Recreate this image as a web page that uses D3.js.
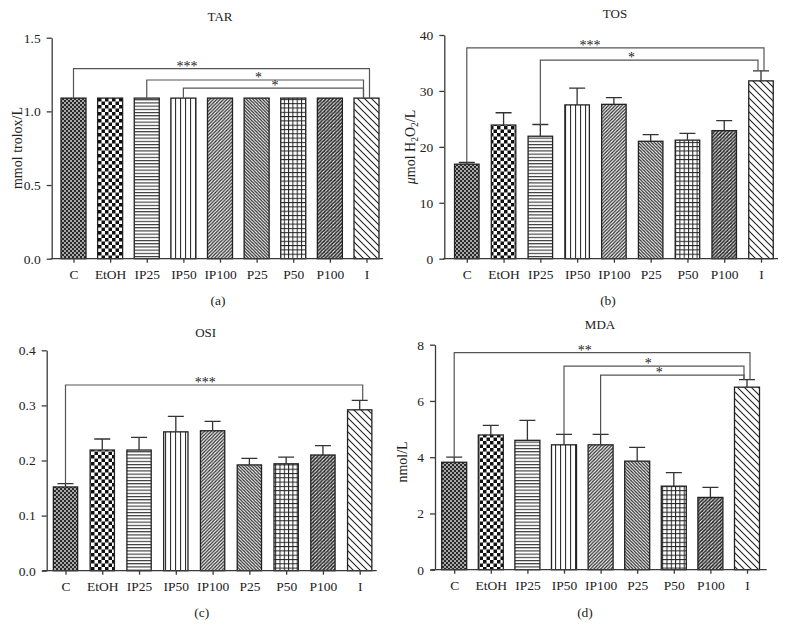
<!DOCTYPE html>
<html>
<head>
<meta charset="utf-8">
<script src="https://cdn.jsdelivr.net/npm/d3@7"></script>
<style>
  html, body { margin: 0; padding: 0; background: #fff; }
  svg { display: block; }
  text { font-family: "Liberation Serif", "DejaVu Serif", Times, serif; fill: #222; }
</style>
</head>
<body>
<svg id="chart" width="787" height="638"></svg>
<script>
// ---------------- DATA ----------------
const categories = ["C", "EtOH", "IP25", "IP50", "IP100", "P25", "P50", "P100", "I"];

const tarValues = [1.09, 1.09, 1.09, 1.09, 1.09, 1.09, 1.09, 1.09, 1.09];
const tarErrors = [0, 0, 0, 0, 0, 0, 0, 0, 0];
const tarTicks = [0, 0.5, 1.0, 1.5];
const tarSig = [
  { from: "C", to: "I", label: "***", level: 1.29, labelAt: 3.1 },
  { from: "IP25", to: "I", label: "*", level: 1.213, labelAt: 5.05 },
  { from: "IP50", to: "I", label: "*", level: 1.158, labelAt: 5.5 }
];

const tosValues = [16.9, 23.9, 21.9, 27.5, 27.6, 21.0, 21.2, 22.9, 31.8];
const tosErrors = [0.3, 2.2, 2.1, 3.0, 1.2, 1.2, 1.2, 1.8, 1.8];
const tosTicks = [0, 10, 20, 30, 40];
const tosSig = [
  { from: "C", to: "I", label: "***", level: 37.7, labelAt: 3.35 },
  { from: "IP25", to: "I", label: "*", level: 35.5, labelAt: 4.48 }
];

const osiValues = [0.152, 0.219, 0.219, 0.252, 0.254, 0.192, 0.194, 0.210, 0.292];
const osiErrors = [0.006, 0.020, 0.023, 0.028, 0.017, 0.012, 0.012, 0.017, 0.017];
const osiTicks = [0, 0.1, 0.2, 0.3, 0.4];
const osiSig = [
  { from: "C", to: "I", label: "***", level: 0.337, labelAt: 3.8 }
];

const mdaValues = [3.82, 4.79, 4.60, 4.44, 4.44, 3.86, 2.97, 2.57, 6.49];
const mdaErrors = [0.18, 0.34, 0.71, 0.37, 0.37, 0.49, 0.48, 0.36, 0.27];
const mdaTicks = [0, 2, 4, 6, 8];
const mdaSig = [
  { from: "C", to: "I", label: "**", level: 7.72, labelAt: 3.57 },
  { from: "IP50", to: "I", label: "*", level: 7.24, labelAt: 5.3 },
  { from: "IP100", to: "I", label: "*", level: 6.92, labelAt: 5.6 }
];

// ---------------- LAYOUT ----------------
const svg = d3.select("#chart");
const defs = svg.append("defs");

// hatch patterns (one per category)
function pat(id, w, h, draw, bg) {
  const p = defs.append("pattern").attr("id", id)
    .attr("patternUnits", "userSpaceOnUse").attr("width", w).attr("height", h);
  p.append("rect").attr("width", w).attr("height", h).attr("fill", bg || "#fff");
  draw(p);
}
pat("p0", 4, 4, p => {
  p.append("rect").attr("x", 0).attr("y", 0).attr("width", 2).attr("height", 2).attr("fill", "#2a2a2a");
  p.append("rect").attr("x", 2).attr("y", 2).attr("width", 2).attr("height", 2).attr("fill", "#2a2a2a");
}, "#a8a8a8");
pat("p1", 7, 7, p => {
  p.append("rect").attr("x", 0).attr("y", 0).attr("width", 3.5).attr("height", 3.5).attr("fill", "#111");
  p.append("rect").attr("x", 3.5).attr("y", 3.5).attr("width", 3.5).attr("height", 3.5).attr("fill", "#111");
});
pat("p2", 6, 3.2, p => {
  p.append("rect").attr("x", 0).attr("y", 0).attr("width", 6).attr("height", 1.1).attr("fill", "#333");
});
pat("p3", 5, 6, p => {
  p.append("rect").attr("x", 0).attr("y", 0).attr("width", 1.1).attr("height", 6).attr("fill", "#333");
});
pat("p4", 3.4, 3.4, p => {
  p.append("path").attr("d", "M-1,1 L1,-1 M0,3.4 L3.4,0 M2.4,4.4 L4.4,2.4")
    .attr("stroke", "#2a2a2a").attr("stroke-width", 1.25);
});
pat("p5", 3.2, 3.2, p => {
  p.append("path").attr("d", "M-1,2.2 L1,4.2 M0,0 L3.2,3.2 M2.2,-1 L4.2,1")
    .attr("stroke", "#2a2a2a").attr("stroke-width", 1.25);
});
pat("p6", 4.3, 4.3, p => {
  p.append("rect").attr("x", 0).attr("y", 0).attr("width", 4.3).attr("height", 1).attr("fill", "#222");
  p.append("rect").attr("x", 0).attr("y", 0).attr("width", 1).attr("height", 4.3).attr("fill", "#222");
});
pat("p7", 3.6, 3.6, p => {
  p.append("path").attr("d", "M-1,1 L1,-1 M0,3.6 L3.6,0 M2.6,4.6 L4.6,2.6")
    .attr("stroke", "#1e1e1e").attr("stroke-width", 1.45);
  p.append("rect").attr("x", 0.2).attr("y", 0.2).attr("width", 0.9).attr("height", 0.9).attr("fill", "#222");
});
pat("p8", 7, 7, p => {
  p.append("path").attr("d", "M-1,6 L1,8 M0,0 L7,7 M6,-1 L8,1")
    .attr("stroke", "#222").attr("stroke-width", 1.1);
});

const panels = [
  { title: "TAR", tag: "(a)", values: tarValues, errors: tarErrors, ticks: tarTicks, fmt: d3.format(".1f"),
    domain: [0, 1.5], sig: tarSig,
    axisX: 51.7, yTop: 37.7, yBot: 258.7, c0: 73.5, c8: 366.5, bw: 25, xl: 50.7, xr: 383,
    titleX: 220, titleY: 16, tagX: 218, tagY: 300, ylabel: "tar", ylabelX: 17, ylabelY: 148 },
  { title: "TOS", tag: "(b)", values: tosValues, errors: tosErrors, ticks: tosTicks, fmt: d3.format("d"),
    domain: [0, 40], sig: tosSig,
    axisX: 444.3, yTop: 35, yBot: 258.7, c0: 466.8, c8: 761, bw: 24.5, xl: 443.3, xr: 778,
    titleX: 615, titleY: 13, tagX: 608, tagY: 300, ylabel: "tos", ylabelX: 410, ylabelY: 147 },
  { title: "OSI", tag: "(c)", values: osiValues, errors: osiErrors, ticks: osiTicks, fmt: d3.format(".1f"),
    domain: [0, 0.4], sig: osiSig,
    axisX: 46.7, yTop: 350.3, yBot: 570.7, c0: 65.5, c8: 359.7, bw: 24.3, xl: 42.3, xr: 376.7,
    titleX: 205.7, titleY: 332, tagX: 201.7, tagY: 612, ylabel: null },
  { title: "MDA", tag: "(d)", values: mdaValues, errors: mdaErrors, ticks: mdaTicks, fmt: d3.format("d"),
    domain: [0, 8], sig: mdaSig,
    axisX: 435, yTop: 344.7, yBot: 569.7, c0: 454.2, c8: 747, bw: 25, xl: 430.7, xr: 766.7,
    titleX: 600, titleY: 324, tagX: 585, tagY: 612, ylabel: "mda", ylabelX: 402, ylabelY: 462 }
];

const axisColor = "#3a3a3a";
const FS = 13.5;

panels.forEach(P => {
  const g = svg.append("g");
  const x = d3.scalePoint().domain(categories).range([P.c0, P.c8]);
  const y = d3.scaleLinear().domain(P.domain).range([P.yBot, P.yTop]);
  const step = x.step();

  // bars
  g.selectAll("rect.bar").data(categories).join("rect")
    .attr("class", "bar")
    .attr("x", d => x(d) - P.bw / 2)
    .attr("width", P.bw)
    .attr("y", (d, i) => y(P.values[i]))
    .attr("height", (d, i) => y(0) - y(P.values[i]))
    .attr("fill", (d, i) => `url(#p${i})`)
    .attr("stroke", "#222").attr("stroke-width", 1.3);

  // error bars
  categories.forEach((c, i) => {
    const e = P.errors[i];
    if (!e) return;
    const cx = x(c);
    g.append("path")
      .attr("d", `M${cx},${y(P.values[i])}V${y(P.values[i] + e)}M${cx - 8},${y(P.values[i] + e)}H${cx + 8}`)
      .attr("stroke", "#333").attr("stroke-width", 1.3).attr("fill", "none");
  });

  // y axis
  const ya = g.append("g").attr("transform", `translate(${P.axisX},0)`)
    .call(d3.axisLeft(y).tickValues(P.ticks).tickFormat(P.fmt).tickSize(5).tickSizeOuter(0).tickPadding(6));
  ya.select(".domain").attr("stroke", axisColor).attr("stroke-width", 1.3);
  ya.selectAll(".tick line").attr("stroke", axisColor).attr("stroke-width", 1.3);
  ya.selectAll(".tick text").attr("font-size", FS).attr("font-family", "Liberation Serif").attr("fill", "#222");

  // x axis
  const xa = g.append("g").attr("transform", `translate(0,${P.yBot})`)
    .call(d3.axisBottom(x).tickSize(4).tickSizeOuter(0).tickPadding(7));
  xa.select(".domain").attr("d", `M${P.xl},0H${P.xr}`).attr("stroke", axisColor).attr("stroke-width", 1.3);
  xa.selectAll(".tick line").attr("stroke", axisColor).attr("stroke-width", 1.3);
  xa.selectAll(".tick text").attr("font-size", FS).attr("font-family", "Liberation Serif").attr("fill", "#222");

  // significance brackets
  const endCount = {};
  P.sig.forEach(s => {
    const fi = categories.indexOf(s.from), ti = categories.indexOf(s.to);
    endCount[s.to] = (endCount[s.to] || 0);
    const k = endCount[s.to]++;
    const rOff = k === 0 ? 3 : -3;
    const lx = x(s.from), rx = x(s.to) + rOff;
    const lb = y(P.values[fi] + P.errors[fi]);
    const rb = y(P.values[ti] + P.errors[ti]);
    const ly = y(s.level);
    g.append("path")
      .attr("d", `M${lx},${lb}V${ly}H${rx}V${rb}`)
      .attr("fill", "none").attr("stroke", "#555").attr("stroke-width", 1.2);
    g.append("text")
      .attr("x", P.c0 + s.labelAt * step)
      .attr("y", ly + 2)
      .attr("text-anchor", "middle")
      .attr("font-size", 14)
      .attr("fill", "#555")
      .text(s.label);
  });

  // title and tag
  g.append("text").attr("x", P.titleX).attr("y", P.titleY).attr("dy", "0.35em")
    .attr("text-anchor", "middle").attr("font-size", 13).text(P.title);
  g.append("text").attr("x", P.tagX).attr("y", P.tagY).attr("dy", "0.35em")
    .attr("text-anchor", "middle").attr("font-size", 13.5).text(P.tag);

  // y label
  if (P.ylabel) {
    const t = g.append("text")
      .attr("transform", `translate(${P.ylabelX},${P.ylabelY}) rotate(-90)`)
      .attr("text-anchor", "middle").attr("dy", "0.35em").attr("font-size", 14);
    if (P.ylabel === "tar") t.text("mmol trolox/L");
    else if (P.ylabel === "mda") t.text("nmol/L");
    else {
      t.append("tspan").attr("font-style", "italic").text("μ");
      t.append("tspan").text("mol H");
      t.append("tspan").attr("font-size", 9.5).attr("dy", 3).text("2");
      t.append("tspan").attr("dy", -3).text("O");
      t.append("tspan").attr("font-size", 9.5).attr("dy", 3).text("2");
      t.append("tspan").attr("dy", -3).text("/L");
    }
  }
});
</script>
</body>
</html>
